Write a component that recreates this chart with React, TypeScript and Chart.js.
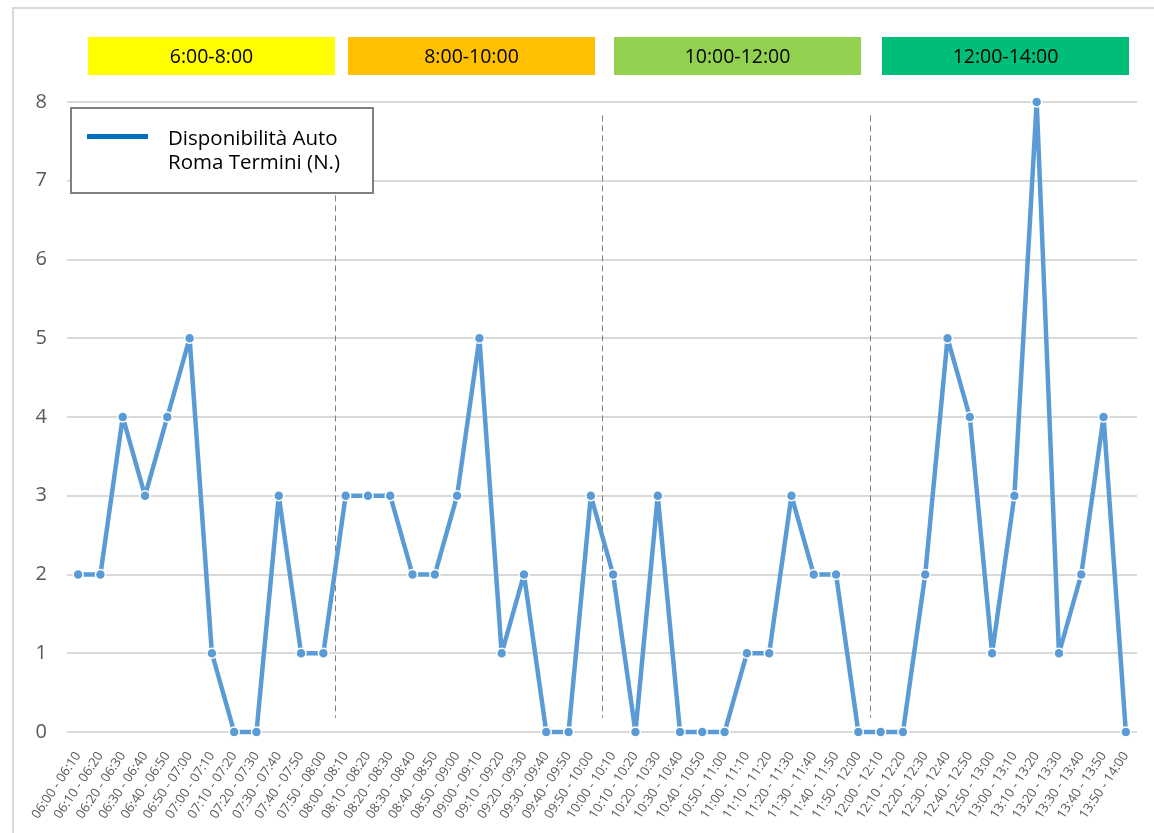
import React, { useEffect, useRef } from 'react';
import { Chart, registerables } from 'chart.js';

Chart.register(...registerables);

const timeSlots = [
  '06:00 - 06:10', '06:10 - 06:20', '06:20 - 06:30', '06:30 - 06:40', '06:40 - 06:50', '06:50 - 07:00',
  '07:00 - 07:10', '07:10 - 07:20', '07:20 - 07:30', '07:30 - 07:40', '07:40 - 07:50', '07:50 - 08:00',
  '08:00 - 08:10', '08:10 - 08:20', '08:20 - 08:30', '08:30 - 08:40', '08:40 - 08:50', '08:50 - 09:00',
  '09:00 - 09:10', '09:10 - 09:20', '09:20 - 09:30', '09:30 - 09:40', '09:40 - 09:50', '09:50 - 10:00',
  '10:00 - 10:10', '10:10 - 10:20', '10:20 - 10:30', '10:30 - 10:40', '10:40 - 10:50', '10:50 - 11:00',
  '11:00 - 11:10', '11:10 - 11:20', '11:20 - 11:30', '11:30 - 11:40', '11:40 - 11:50', '11:50 - 12:00',
  '12:00 - 12:10', '12:10 - 12:20', '12:20 - 12:30', '12:30 - 12:40', '12:40 - 12:50', '12:50 - 13:00',
  '13:00 - 13:10', '13:10 - 13:20', '13:20 - 13:30', '13:30 - 13:40', '13:40 - 13:50', '13:50 - 14:00',
];

const availability = [
  2, 2, 4, 3, 4, 5,
  1, 0, 0, 3, 1, 1,
  3, 3, 3, 2, 2, 3,
  5, 1, 2, 0, 0, 3,
  2, 0, 3, 0, 0, 0,
  1, 1, 3, 2, 2, 0,
  0, 0, 2, 5, 4, 1,
  3, 8, 1, 2, 4, 0,
];

const yTicks = [0, 1, 2, 3, 4, 5, 6, 7, 8];

const bandLabels = ['6:00-8:00', '8:00-10:00', '10:00-12:00', '12:00-14:00'];
const bandColors = ['#FFFF00', '#FFC000', '#92D050', '#00BD78'];

const separatorsAfter = ['07:50 - 08:00', '09:50 - 10:00', '11:50 - 12:00'];

const legendLines = ['Disponibilità Auto', 'Roma Termini (N.)'];

const FONT = '"Open Sans", "Noto Sans", sans-serif';

const bandBoxes = [
  [88, 335],
  [348, 595],
  [614, 861],
  [882, 1129],
];

const overlayPlugin = {
  id: 'overlayPlugin',
  beforeDraw(chart: any) {
    const ctx = chart.ctx;
    ctx.save();
    ctx.fillStyle = '#FFFFFF';
    ctx.fillRect(0, 0, chart.width, chart.height);
    ctx.strokeStyle = '#D9D9D9';
    ctx.lineWidth = 2;
    ctx.beginPath();
    ctx.moveTo(13, chart.height);
    ctx.lineTo(13, 8);
    ctx.lineTo(chart.width, 8);
    ctx.stroke();
    ctx.restore();
  },
  beforeDatasetsDraw(chart: any) {
    const ctx = chart.ctx;
    const xs = chart.scales.x;
    const ys = chart.scales.y;
    ctx.save();
    ctx.strokeStyle = '#7F7F7F';
    ctx.lineWidth = 1;
    ctx.setLineDash([6, 4]);
    separatorsAfter.forEach((lab) => {
      const idx = timeSlots.indexOf(lab);
      const x = Math.round(xs.getPixelForValue(idx + 0.5)) + 0.5;
      ctx.beginPath();
      ctx.moveTo(x, ys.getPixelForValue(7.83));
      ctx.lineTo(x, ys.getPixelForValue(0.18));
      ctx.stroke();
    });
    ctx.restore();
  },
  afterDraw(chart: any) {
    const ctx = chart.ctx;
    ctx.save();
    // time bands
    bandLabels.forEach((lab, i) => {
      const [x0, x1] = bandBoxes[i];
      ctx.fillStyle = bandColors[i];
      ctx.fillRect(x0, 37, x1 - x0, 38);
      ctx.fillStyle = '#000000';
      ctx.font = `19.5px ${FONT}`;
      ctx.textAlign = 'center';
      ctx.textBaseline = 'middle';
      ctx.fillText(lab, (x0 + x1) / 2, 57);
    });
    // legend box
    ctx.fillStyle = '#FFFFFF';
    ctx.fillRect(71, 108, 302, 85);
    ctx.strokeStyle = '#7F7F7F';
    ctx.lineWidth = 2;
    ctx.strokeRect(71, 108, 302, 85);
    ctx.strokeStyle = '#0070C0';
    ctx.lineWidth = 5;
    ctx.beginPath();
    ctx.moveTo(87, 136.5);
    ctx.lineTo(148, 136.5);
    ctx.stroke();
    ctx.fillStyle = '#000000';
    ctx.font = `20.5px ${FONT}`;
    ctx.textAlign = 'left';
    ctx.textBaseline = 'alphabetic';
    legendLines.forEach((t, i) => {
      ctx.fillText(t, 168, 145 + i * 24);
    });
    ctx.restore();
  },
};

export default function App() {
  const canvasRef = useRef<HTMLCanvasElement | null>(null);

  useEffect(() => {
    if (!canvasRef.current) return;
    const chart = new Chart(canvasRef.current, {
      type: 'line',
      data: {
        labels: timeSlots,
        datasets: [
          {
            label: legendLines.join(' '),
            data: availability,
            borderColor: '#5B9BD5',
            borderWidth: 4.5,
            borderJoinStyle: 'round',
            borderCapStyle: 'round',
            pointRadius: 5,
            pointBackgroundColor: '#5B9BD5',
            pointBorderColor: '#FFFFFF',
            pointBorderWidth: 1.5,
            tension: 0,
            fill: false,
            clip: false,
          },
        ],
      },
      options: {
        responsive: false,
        animation: false,
        layout: { padding: { top: 102, right: 17, left: 0, bottom: 0 } },
        plugins: {
          legend: { display: false },
          tooltip: { enabled: false },
        },
        scales: {
          x: {
            offset: true,
            grid: { display: false },
            border: { display: false },
            ticks: {
              autoSkip: false,
              minRotation: 56,
              maxRotation: 56,
              padding: 9,
              color: '#595959',
              font: { size: 13, family: FONT },
            },
            afterFit(scale: any) {
              scale.height = 101;
            },
          },
          y: {
            min: yTicks[0],
            max: yTicks[yTicks.length - 1],
            afterBuildTicks(scale: any) {
              scale.ticks = yTicks.map((v) => ({ value: v }));
            },
            grid: { color: '#D9D9D9', lineWidth: 2, drawTicks: false },
            border: { display: false },
            ticks: {
              padding: 20,
              color: '#595959',
              font: { size: 20, family: FONT },
            },
            afterFit(scale: any) {
              scale.width = 67;
            },
          },
        },
      },
      plugins: [overlayPlugin],
    });
    return () => chart.destroy();
  }, []);

  return (
    <div style={{ position: 'fixed', left: 0, top: 0, width: 1154, height: 833 }}>
      <canvas ref={canvasRef} width={1154} height={833} />
    </div>
  );
}
